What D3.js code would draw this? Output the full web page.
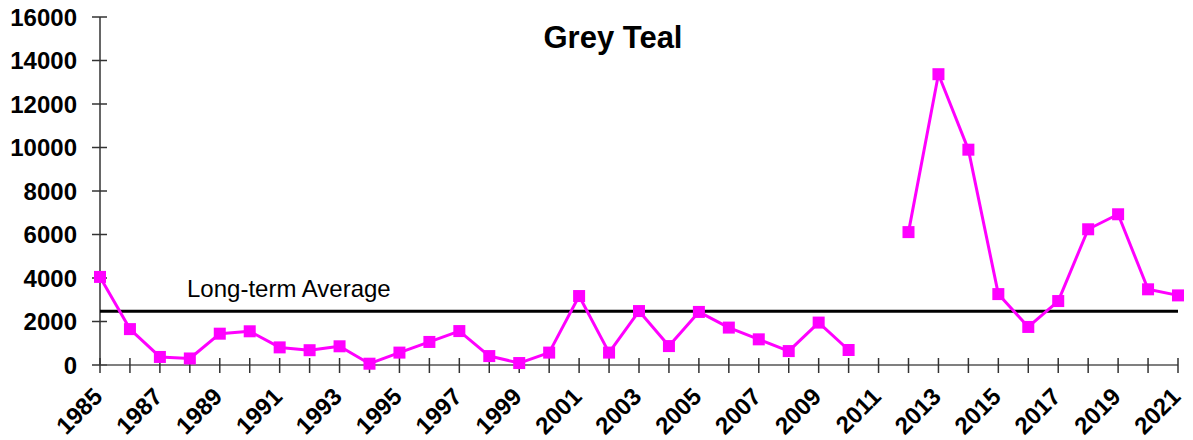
<!DOCTYPE html>
<html>
<head>
<meta charset="utf-8">
<script src="https://cdn.jsdelivr.net/npm/d3@7"></script>
<style>
  html, body { margin: 0; padding: 0; background: #fff; }
  svg { display: block; }
  text { font-family: Arial, "Liberation Sans", sans-serif; }
</style>
</head>
<body>
<svg id="chart" width="1193" height="440"></svg>
<script>
// Grey Teal annual counts (no survey in 2011)
const years = [1985,1986,1987,1988,1989,1990,1991,1992,1993,1994,1995,1996,1997,1998,1999,2000,
  2001,2002,2003,2004,2005,2006,2007,2008,2009,2010,2011,2012,2013,2014,2015,2016,2017,2018,2019,2020,2021];
const counts = [4050,1650,370,300,1440,1550,810,680,860,60,570,1060,1560,410,90,570,
  3170,570,2480,870,2440,1720,1180,640,1950,690,null,6110,13370,9900,3260,1750,2940,6240,6930,3480,3200];
const longTermAverage = 2470;
const yTicks = [0,2000,4000,6000,8000,10000,12000,14000,16000];
const xTickYears = years.filter((y, i) => i % 2 === 0);

const svg = d3.select("#chart");
const margin = { left: 100, right: 15, top: 17, bottom: 75 };
const width = 1193, height = 440;

const x = d3.scaleLinear().domain([1985, 2021]).range([margin.left, width - margin.right]);
const y = d3.scaleLinear().domain([0, 16000]).range([height - margin.bottom, margin.top]);

// Y axis
const yAxis = svg.append("g").attr("transform", `translate(${margin.left},0)`);
yAxis.append("line")
  .attr("x1", 0).attr("x2", 0).attr("y1", y(16000)).attr("y2", y(0))
  .attr("stroke", "#333").attr("stroke-width", 1.5);
yAxis.selectAll("line.tick").data(yTicks).join("line")
  .attr("class", "tick")
  .attr("x1", -8).attr("x2", 7)
  .attr("y1", d => y(d)).attr("y2", d => y(d))
  .attr("stroke", "#333").attr("stroke-width", 1.5);
yAxis.selectAll("text").data(yTicks).join("text")
  .attr("x", -23).attr("y", d => y(d) + 8.5)
  .attr("text-anchor", "end")
  .attr("font-size", 24).attr("font-weight", "bold").attr("fill", "#000")
  .text(d => d);

// X axis
const xAxis = svg.append("g").attr("transform", `translate(0,${y(0)})`);
xAxis.append("line")
  .attr("x1", x(1985)).attr("x2", x(2021)).attr("y1", 0).attr("y2", 0)
  .attr("stroke", "#555").attr("stroke-width", 1.5);
xAxis.selectAll("line.tick").data(years).join("line")
  .attr("class", "tick")
  .attr("x1", d => x(d)).attr("x2", d => x(d))
  .attr("y1", -7).attr("y2", 8)
  .attr("stroke", "#333").attr("stroke-width", 1.5);
xAxis.selectAll("text").data(xTickYears).join("text")
  .attr("transform", d => `translate(${x(d) + 4},${33}) rotate(-45)`)
  .attr("text-anchor", "end")
  .attr("font-size", 24).attr("font-weight", "bold").attr("fill", "#000")
  .text(d => d);

// Long-term average line
svg.append("line")
  .attr("x1", x(1985)).attr("x2", x(2021))
  .attr("y1", y(longTermAverage)).attr("y2", y(longTermAverage))
  .attr("stroke", "#000").attr("stroke-width", 3);
svg.append("text")
  .attr("x", 187).attr("y", y(longTermAverage) - 14)
  .attr("font-size", 24).attr("fill", "#000")
  .text("Long-term Average");

// Series line (breaks at missing year)
const data = years.map((yr, i) => ({ year: yr, value: counts[i] }));
const line = d3.line()
  .defined(d => d.value != null)
  .x(d => x(d.year)).y(d => y(d.value));
svg.append("path")
  .datum(data)
  .attr("fill", "none")
  .attr("stroke", "#FF00FF")
  .attr("stroke-width", 3)
  .attr("stroke-linejoin", "round")
  .attr("d", line);

const ms = 12;
svg.selectAll("rect.marker").data(data.filter(d => d.value != null)).join("rect")
  .attr("class", "marker")
  .attr("x", d => x(d.year) - ms / 2).attr("y", d => y(d.value) - ms / 2)
  .attr("width", ms).attr("height", ms)
  .attr("fill", "#FF00FF");

// Title
svg.append("text")
  .attr("x", 613).attr("y", 48)
  .attr("text-anchor", "middle")
  .attr("font-size", 31).attr("font-weight", "bold").attr("fill", "#000")
  .text("Grey Teal");
</script>
</body>
</html>
